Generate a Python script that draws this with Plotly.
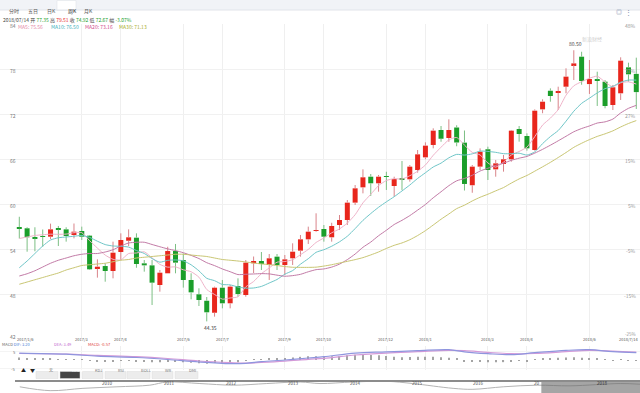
import numpy as np
import plotly.graph_objects as go

# ---------------- data (weekly candles, 2017/1/6 .. 2018/7/14) ----------------
opens = [56.9, 56.76, 55.6, 55.7, 55.64, 56.8, 56.62, 55.87, 56.4, 55.78,
         51.38, 51.73, 51.07, 53.6, 55.1, 55.51, 52.09, 51.82, 49.2, 50.76,
         53.73, 52.53, 49.87, 47.96, 47.1, 45.5, 48.84, 46.76, 49.07, 47.87,
         52.1, 52.4, 51.87, 52.98, 51.87, 52.76, 53.78, 55.29, 56.4, 56.67,
         55.56, 57.2, 57.87, 60.18, 62.22, 63.64, 62.76, 63.7, 62.4, 63.35,
         63.29, 64.53, 66.22, 67.87, 69.87, 68.8, 70.2, 68.18, 62.5, 64.98,
         67.3, 64.62, 65.33, 65.96, 70.0, 69.07, 67.2, 72.62, 75.1, 74.84,
         75.64, 78.53, 79.64, 75.99, 76.6, 76.31, 73.2, 74.76, 78.22, 77.35]
highs = [58.3, 56.9, 56.9, 56.6, 57.38, 57.07, 56.9, 57.4, 56.98, 55.87,
         52.62, 52.09, 54.98, 56.09, 56.62, 56.09, 52.53, 52.53, 51.2, 54.3,
         54.67, 53.4, 50.76, 48.76, 47.6, 48.98, 49.87, 49.2, 50.09, 52.53,
         53.0, 53.6, 53.33, 53.33, 53.2, 54.76, 55.87, 56.98, 58.76, 57.2,
         57.5, 58.53, 60.53, 62.53, 64.62, 64.0, 63.87, 64.3, 63.64, 65.73,
         65.2, 67.2, 68.22, 70.09, 70.4, 71.29, 70.5, 69.8, 65.2, 67.42,
         67.64, 65.87, 66.53, 69.87, 70.4, 69.42, 72.62, 73.96, 75.42, 75.64,
         78.09, 80.5, 80.3, 79.2, 77.64, 76.53, 75.87, 79.56, 78.84, 79.51]
lows = [55.4, 53.64, 53.7, 54.3, 55.33, 54.4, 54.98, 55.42, 55.2, 51.2,
        50.18, 49.64, 50.09, 52.53, 54.4, 51.5, 50.98, 46.53, 48.31, 50.76,
        50.76, 48.85, 47.29, 46.4, 44.35, 44.98, 46.09, 46.09, 47.64, 47.64,
        50.8, 51.2, 49.87, 51.2, 50.53, 51.87, 52.98, 54.67, 56.3, 54.98,
        54.98, 56.53, 57.2, 59.87, 61.42, 61.07, 61.64, 61.87, 60.98, 61.87,
        62.98, 64.18, 65.96, 67.42, 68.3, 68.3, 67.7, 61.8, 61.5, 64.53,
        63.2, 63.64, 64.31, 65.64, 68.31, 67.11, 67.11, 72.1, 73.64, 72.53,
        74.76, 76.53, 75.9, 74.67, 73.07, 72.76, 72.53, 73.87, 76.31, 72.67]
closes = [56.7, 55.56, 55.4, 55.6, 56.62, 56.6, 55.73, 56.31, 55.64, 51.29,
          51.64, 51.07, 53.51, 55.2, 55.56, 52.0, 51.82, 49.51, 50.84, 53.73,
          52.18, 49.87, 48.22, 47.2, 45.56, 48.84, 46.76, 48.98, 48.0, 52.18,
          52.4, 52.0, 52.76, 51.87, 52.62, 53.64, 55.29, 56.31, 56.5, 55.64,
          57.07, 57.87, 60.18, 62.09, 63.56, 62.76, 63.64, 63.6, 63.33, 63.3,
          64.98, 66.62, 67.78, 69.78, 68.7, 69.87, 68.2, 62.67, 64.98, 66.98,
          64.53, 65.42, 65.96, 69.78, 69.33, 67.42, 72.44, 73.64, 74.4, 75.02,
          76.98, 78.75, 76.4, 76.67, 76.4, 73.07, 75.56, 79.11, 77.29, 74.92]

# moving-average values before enough weeks are on screen
ma5_lead = [55.4, 55.6, 55.8, 55.9]
ma10_lead = [51.5, 52.4, 53.4, 54.4, 55.2, 55.5, 55.6, 55.7, 55.8]
ma20_lead = [50.4, 50.7, 51.1, 51.6, 52.1, 52.5, 52.8, 53.1, 53.3, 53.4,
             53.4, 53.6, 53.9, 54.4, 54.8, 54.9, 54.9, 54.6, 54.3]
ma30_lead = [49.3, 49.6, 49.9, 50.2, 50.5, 50.8, 51.2, 51.5, 51.8, 51.9,
             52.0, 52.1, 52.3, 52.5, 52.6, 52.8, 52.9, 53.0, 53.1, 53.2,
             53.3, 53.3, 53.2, 53.1, 53.0, 52.8, 52.6, 52.5, 52.4]
ma_labels = ["MA5: 75.56", "MA10: 76.50", "MA20: 73.16", "MA30: 71.13"]

tick_idx = [8, 13, 21, 26, 34, 39, 47, 52, 60, 65, 73]
tick_text = ["2017/3", "2017/4", "2017/6", "2017/7", "2017/9", "2017/10",
             "2017/12", "2018/1", "2018/3", "2018/4", "2018/6"]
first_label, last_label = "2017/1/6", "2018/7/14"
last_date = "2018/07/14"

price_ticks = [84, 78, 72, 66, 60, 54, 48, 42]
pct_text = ["48%", "37%", "27%", "15%", "5%", "-5%", "-15%", "-25%"]

# MACD panel
macd_idx = [0, 6, 10, 15, 19, 23, 27, 29, 31, 34, 37, 39, 43, 47, 51, 55,
            57, 60, 63, 66, 70, 73, 76, 79]
dif_vals = [4.2, 3.5, 2.3, 1.5, 0.3, -1.2, -2.2, -2.0, -1.0, 0.0, 1.2, 2.0,
            4.2, 4.9, 5.6, 6.2, 4.9, 3.8, 3.2, 4.4, 5.8, 6.2, 5.0, 4.4]
dea_vals = [3.9, 3.6, 2.8, 2.0, 0.9, -0.6, -1.6, -1.9, -1.5, -0.7, 0.4, 1.0,
            3.0, 4.2, 5.0, 5.8, 5.6, 4.6, 3.8, 3.9, 5.0, 5.8, 5.4, 4.7]
macd_hist = [1.5, 1.2, 1.0, 0.8, 0.8, 0.6, 0.4, 0.3, 0.2, -0.6,
             -1.0, -1.2, -1.0, -0.6, -0.4, -0.8, -1.0, -1.4, -1.3, -1.0,
             -1.1, -1.4, -1.7, -2.0, -2.3, -1.8, -1.9, -1.5, -1.3, -0.4,
             0.2, 0.5, 0.8, 0.9, 1.2, 1.5, 1.9, 2.2, 2.3, 2.0,
             2.2, 2.3, 2.8, 3.2, 3.4, 3.0, 2.8, 2.4, 2.0, 1.7,
             1.8, 1.9, 1.9, 2.0, 1.6, 1.4, 0.9, -0.8, -1.0, -1.0,
             -1.4, -1.4, -1.3, -0.7, -0.5, -0.7, 0.3, 0.8, 1.1, 1.3,
             1.5, 1.7, 1.3, 1.0, 0.7, 0.1, -0.2, 0.2, -0.2, -0.6]
macd_header = ["DIF: 3.20", "DEA: 3.49", "MACD: -0.57"]
indicator_tabs = ["无", "MACD", "KDJ", "RSI", "BOLL", "WR", "DMI"]

# navigator (long history)
nav_year = [2008.59, 2009.08, 2009.61, 2010.16, 2010.69, 2010.97, 2011.50,
            2012.04, 2012.58, 2013.12, 2013.44, 2013.97, 2014.52, 2014.94,
            2015.59, 2015.91, 2016.40, 2016.95, 2017.48, 2018.29, 2018.61]
nav_value = [41.7, 8.4, 28.4, 41.7, 55.8, 83.3, 70.0, 55.8, 70.0, 83.3, 70.0,
             83.3, 89.2, 70.0, 28.4, 20.0, 41.7, 55.8, 50.0, 70.0, 64.2]
nav_years = [2010, 2011, 2012, 2013, 2014, 2015, 2016, 2017, 2018]
nav_year_text = ["2010", "2011", "2012", "2013", "2014", "2015", "2016", "20", "2018"]
window_start = 2017.016

period_tabs = ["分时", "五日", "日K", "周K", "月K"]
selected_tab = 3

# ---------------- styling ----------------
W, H = 640, 393
FONT = "Noto Sans CJK SC, Noto Sans, sans-serif"
RED, GREEN = "#e8261c", "#1b9e2a"
RED_WICK, GREEN_WICK = "#d9848a", "#7cbf84"
MA_COLORS = ["#efb3c9", "#6fc6c8", "#c27aa6", "#c9c673"]
MA_TEXT = ["#e58aa8", "#3fb0bc", "#d04c8c", "#a9ad2a"]


def px(x):
    return x / W


def py(y):
    return 1 - y / H


n = len(closes)
idx = list(range(n))


def moving_avg(lead, period):
    out = list(lead)
    for i in range(len(lead), n):
        out.append(float(np.mean(closes[i - period + 1:i + 1])))
    return out


mas = [moving_avg(ma5_lead, 5), moving_avg(ma10_lead, 10),
       moving_avg(ma20_lead, 20), moving_avg(ma30_lead, 30)]

fig = go.Figure()

# wicks (split so they do not cross the bodies)
for up, col in ((True, RED_WICK), (False, GREEN_WICK)):
    xs, ys = [], []
    for i in idx:
        if (closes[i] >= opens[i]) != up:
            continue
        top, bot = max(opens[i], closes[i]), min(opens[i], closes[i])
        xs += [i, i, None, i, i, None]
        ys += [top, highs[i], None, lows[i], bot, None]
    fig.add_trace(go.Scatter(x=xs, y=ys, mode="lines", line=dict(color=col, width=1),
                             hoverinfo="skip", xaxis="x", yaxis="y"))

# bodies
body_base = [min(o, c) for o, c in zip(opens, closes)]
body_h = [max(abs(c - o), 0.13) for o, c in zip(opens, closes)]
body_col = [RED if c >= o else GREEN for o, c in zip(opens, closes)]
fig.add_trace(go.Bar(x=idx, y=body_h, base=body_base, width=0.64,
                     marker=dict(color=body_col, line=dict(width=0)),
                     xaxis="x", yaxis="y"))

# moving averages
for vals, col in zip(mas, MA_COLORS):
    fig.add_trace(go.Scatter(x=idx, y=vals, mode="lines",
                             line=dict(color=col, width=1, shape="spline", smoothing=0.6),
                             xaxis="x", yaxis="y"))

# MACD panel
fig.add_trace(go.Bar(x=idx, y=macd_hist, width=0.14, marker=dict(color="#a4a4a4", line=dict(width=0)),
                     xaxis="x2", yaxis="y2"))
fig.add_trace(go.Scatter(x=macd_idx, y=dea_vals, mode="lines",
                         line=dict(color="#d49ad8", width=1.2, shape="spline"), xaxis="x2", yaxis="y2"))
fig.add_trace(go.Scatter(x=macd_idx, y=dif_vals, mode="lines",
                         line=dict(color="#8f95de", width=1.2, shape="spline"), xaxis="x2", yaxis="y2"))

# navigator
fig.add_trace(go.Scatter(x=nav_year, y=nav_value, mode="lines",
                         line=dict(color="#b4b4b4", width=1, shape="spline"), xaxis="x3", yaxis="y3"))

xr = [-19.3 / 7.81, (W - 19.3) / 7.81]
grid = "#efefef"
fig.update_layout(
    width=W, height=H, margin=dict(l=0, r=0, t=0, b=0, pad=0),
    paper_bgcolor="white", plot_bgcolor="white", showlegend=False,
    barmode="overlay", font=dict(family=FONT, size=5, color="#555"),
    xaxis=dict(domain=[0, 1], range=xr, autorange=False, tickvals=tick_idx, showticklabels=False,
               showgrid=True, gridcolor=grid, gridwidth=1, zeroline=False, ticks="", anchor="y"),
    yaxis=dict(domain=[py(339), py(24)], range=[42, 84], tickvals=price_ticks,
               showticklabels=False, showgrid=True, gridcolor="#f1f1f1", zeroline=False, ticks=""),
    xaxis2=dict(domain=[0, 1], range=xr, autorange=False, tickvals=tick_idx, showticklabels=False,
                showgrid=True, gridcolor=grid, zeroline=False, ticks="", anchor="y2"),
    yaxis2=dict(domain=[py(370), py(346)], range=[-6.02, 8.43], tickvals=[-5, 5],
                showticklabels=False, showgrid=True, gridcolor="#f4f4f4", zeroline=False, ticks=""),
    xaxis3=dict(domain=[0, 1], range=[2008.27, 2018.61], visible=False, anchor="y3"),
    yaxis3=dict(domain=[0, py(381)], range=[-12, 92], visible=False),
)

shapes = []
ann = []

# header bar with period tabs
shapes.append(dict(type="rect", xref="paper", yref="paper", x0=0, x1=1, y0=py(10), y1=1,
                   fillcolor="#f1f3f7", line=dict(width=0), layer="below"))
shapes.append(dict(type="line", xref="paper", yref="paper", x0=0, x1=1, y0=py(10), y1=py(10),
                   line=dict(color="#e1e4ea", width=1)))
tab_centers = [7, 26, 45, 66, 82]
shapes.append(dict(type="rect", xref="paper", yref="paper", x0=px(57), x1=px(76), y0=py(10.5), y1=py(0.5),
                   fillcolor="white", line=dict(color="#e1e4ea", width=0.6), layer="below"))
for k, (t, c) in enumerate(zip(period_tabs, tab_centers)):
    ann.append(dict(text=t, x=px(c), y=py(5), xref="paper", yref="paper", showarrow=False,
                    font=dict(size=5, color="#222" if k == selected_tab else "#555")))
ann.append(dict(text="◎", x=px(624), y=py(5), xref="paper", yref="paper", showarrow=False,
                font=dict(size=6, color="#7a8aa8")))
ann.append(dict(text="⋮", x=px(634), y=py(5), xref="paper", yref="paper", showarrow=False,
                font=dict(size=7, color="#7a8aa8")))

# OHLC header line
chg = (closes[-1] / closes[-2] - 1) * 100
g, r = GREEN, RED
hdr = (f"{last_date} 开 <span style='color:{g}'>{opens[-1]:.2f}</span> "
       f"高 <span style='color:{r}'>{highs[-1]:.2f}</span> "
       f"收 <span style='color:{g}'>{closes[-1]:.2f}</span> "
       f"低 <span style='color:{g}'>{lows[-1]:.2f}</span> "
       f"幅 <span style='color:{g}'>{chg:.2f}%</span>")
ann.append(dict(text=hdr, x=px(0.5), y=py(14.5), xref="paper", yref="paper", xanchor="left",
                showarrow=False, font=dict(size=5, color="#444")))
for t, xx, col in zip(ma_labels, [16, 49, 83, 117], MA_TEXT):
    ann.append(dict(text=t, x=px(xx), y=py(21), xref="paper", yref="paper", xanchor="left",
                    showarrow=False, font=dict(size=5, color=col)))

# watermark
ann.append(dict(text="新浪财经", x=px(604), y=py(33), xref="paper", yref="paper", showarrow=False,
                font=dict(size=5, color="#cfcfcf")))

# price labels (left) and percent labels (right)
for p, pt in zip(price_ticks, pct_text):
    ys = -1.5 if p != 42 else 3
    ann.append(dict(text=str(p), x=px(9), y=p, xref="paper", yref="y", xanchor="left",
                    yshift=ys, showarrow=False, borderpad=0, font=dict(size=5, color="#777")))
    ann.append(dict(text=pt, x=px(637), y=p, xref="paper", yref="y", xanchor="right",
                    yshift=ys if p != 42 else 5, showarrow=False, borderpad=0,
                    font=dict(size=5 if p != 42 else 4.5, color="#999")))

# max / min markers
imax = int(np.argmax(highs))
imin = int(np.argmin(lows))
ann.append(dict(text=f"{highs[imax]:.2f}", x=imax, y=highs[imax], xref="x", yref="y",
                yanchor="bottom", xshift=2, yshift=1, showarrow=False, font=dict(size=5, color="#444")))
ann.append(dict(text=f"{lows[imin]:.2f}", x=imin, y=lows[imin], xref="x", yref="y",
                yanchor="top", xshift=4, yshift=-1, showarrow=False, font=dict(size=5, color="#444")))

# date labels
DATE_Y = py(343)
DF = 4
ann.append(dict(text=first_label, x=0, y=DATE_Y, xref="x", yref="paper", xanchor="left",
                xshift=-3, showarrow=False, borderpad=0, font=dict(size=DF, color="#555")))
for i, t in zip(tick_idx, tick_text):
    ann.append(dict(text=t, x=i, y=DATE_Y, xref="x", yref="paper", showarrow=False, borderpad=0,
                    font=dict(size=DF, color="#555")))
ann.append(dict(text=last_label, x=px(639), y=DATE_Y, xref="paper", yref="paper", xanchor="right",
                showarrow=False, borderpad=0, font=dict(size=DF, color="#555")))

# MACD header + axis labels
MH_Y = py(348)
ann.append(dict(text=f"MACD <span style='color:#4f7fd8'>{macd_header[0]}</span>", x=px(0.5), y=MH_Y,
                xref="paper", yref="paper", xanchor="left", borderpad=0,
                showarrow=False, font=dict(size=4, color="#666")))
for t, xx, col in zip(macd_header[1:], [53, 87], ["#c46fcf", "#e0413a"]):
    ann.append(dict(text=t, x=px(xx), y=MH_Y, xref="paper", yref="paper", xanchor="left",
                    showarrow=False, borderpad=0, font=dict(size=4, color=col)))
for v in (5, -5):
    ann.append(dict(text=str(v), x=px(16), y=v, xref="paper", yref="y2", xanchor="right",
                    yshift=-0.5, showarrow=False, borderpad=0, font=dict(size=4, color="#666")))

# indicator buttons row
ann.append(dict(text="▲", x=px(19), y=py(375), xref="paper", yref="paper", showarrow=False,
                font=dict(size=5, color="#222")))
ann.append(dict(text="▼", x=px(28), y=py(375), xref="paper", yref="paper", showarrow=False,
                font=dict(size=5, color="#222")))
btn_x = [(36, 58), (60, 80), (82, 103), (105, 126), (127, 150), (152, 173), (175, 198)]
for t, (a, b) in zip(indicator_tabs, btn_x):
    sel = t == "MACD"
    shapes.append(dict(type="rect", xref="paper", yref="paper", x0=px(a), x1=px(b),
                       y0=py(378.5), y1=py(371.5),
                       fillcolor="#444" if sel else "#ececec", line=dict(color="#dcdcdc", width=0.5)))
    ann.append(dict(text=t, x=px((a + b) / 2), y=py(375), xref="paper", yref="paper", showarrow=False,
                    font=dict(size=4, color="white" if sel else "#777")))

# navigator frame, window and year labels
shapes.append(dict(type="line", xref="paper", yref="paper", x0=px(15), x1=1, y0=py(381), y1=py(381),
                   line=dict(color="#8c8c8c", width=2)))
shapes.append(dict(type="rect", xref="x3", yref="paper", x0=window_start, x1=2018.61,
                   y0=0, y1=py(382), fillcolor="rgba(105,105,105,0.6)", line=dict(width=0), layer="above"))
for yv, t in zip(nav_years, nav_year_text):
    if t == "20":
        ann.append(dict(text=t, x=window_start, y=py(388), xref="x3", yref="paper", xanchor="right",
                        showarrow=False, font=dict(size=4.5, color="#555")))
    else:
        ann.append(dict(text=t, x=yv, y=py(388), xref="x3", yref="paper", showarrow=False,
                        font=dict(size=4.5, color="#333" if yv == 2018 else "#555")))

fig.update_layout(shapes=shapes, annotations=ann)
fig.write_html("out.html", config={"displayModeBar": False},
               post_script="document.body.style.margin='0';document.body.style.padding='0';")
